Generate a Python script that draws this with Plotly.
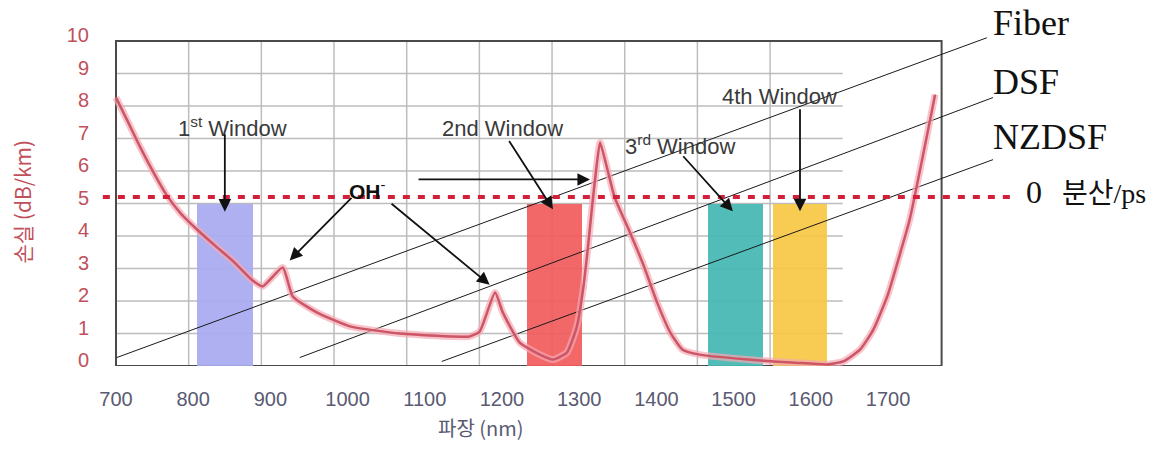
import plotly.graph_objects as go

# ---- data ----
wavelength = [700, 716, 731, 748, 765, 784, 805, 828, 852, 877, 890, 916, 929, 960, 1003, 1068,
              1158, 1171, 1191, 1201, 1223, 1249, 1266, 1284, 1297, 1305, 1311, 1317, 1322, 1327,
              1336, 1346, 1363, 1383, 1401, 1418, 1434, 1456, 1534, 1580, 1621,
              1642, 1664, 1681, 1699, 1716, 1728, 1761]
loss = [8.26, 7.49, 6.75, 5.98, 5.28, 4.69, 4.2, 3.71, 3.22, 2.63, 2.45, 3.03, 2.14, 1.65, 1.22, 1.0,
        0.91, 1.06, 2.26, 1.65, 0.72, 0.35, 0.2, 0.41, 1.22, 2.35, 3.58, 4.97, 6.05, 6.88,
        6.1, 5.18, 4.26, 3.12, 1.95, 1.03, 0.5, 0.35, 0.17, 0.1, 0.05,
        0.14, 0.51, 1.12, 2.14, 3.49, 4.5, 8.35]

window_start = [805, 1232, 1467, 1551]
window_end = [877, 1304, 1538, 1621]
window_top = [5, 5, 5, 5]
window_colors = ["#a9aaf0", "#f25c5c", "#45b8b4", "#f8c845"]

disp_names = ["Fiber", "DSF", "NZDSF"]
disp_x0 = [701, 938, 1122]
disp_y0 = [0.26, 0.26, 0.14]
disp_x1 = [1828, 1836, 1836]
disp_y1 = [10.1, 8.26, 6.35]
disp_label_y = [10.55, 8.75, 7.06]
disp_label_x = 1834

zero_disp_level = 5.2
zero_disp_x = [683, 1862]

x_ticks = [700, 800, 900, 1000, 1100, 1200, 1300, 1400, 1500, 1600, 1700]
y_ticks = [0, 1, 2, 3, 4, 5, 6, 7, 8, 9, 10]

# window labels & arrows
win_labels = ["1<sup>st</sup> Window", "2nd Window", "3<sup>rd</sup> Window", "4th Window"]
win_label_x = [851, 1201, 1430, 1560]
win_label_y = [7.34, 7.3, 6.8, 8.3]

arrow_tail_x = [841, 1208, 1433, 1586, 1007, 1055, 1090]
arrow_tail_y = [7.18, 6.97, 6.5, 7.95, 5.22, 5.03, 5.74]
arrow_head_x = [841, 1266, 1499, 1586, 925, 1184, 1314]
arrow_head_y = [4.75, 4.82, 4.76, 4.76, 3.25, 2.5, 5.74]

oh_label = ("<b>OH</b><sup>-</sup>", 1026, 5.43)

# frame / grid (drawn on grid axis x2)
grid_x = [800, 900, 1000, 1100, 1200, 1300, 1400, 1500, 1600]
grid_y = [1, 2, 3, 4, 5, 6, 7, 8, 9]
grid_x_min, grid_x_max = 700, 1700
frame_x_max = 1836
y_min, y_max = 0, 10

fig = go.Figure()

# windows (bars)
fig.add_trace(go.Bar(
    x=[(s + e) / 2 for s, e in zip(window_start, window_end)],
    y=window_top,
    width=[e - s for s, e in zip(window_start, window_end)],
    marker=dict(color=window_colors, line=dict(width=0)),
    opacity=0.93, showlegend=False, hoverinfo="skip"))

# dispersion lines
for i, n in enumerate(disp_names):
    fig.add_trace(go.Scatter(x=[disp_x0[i], disp_x1[i]], y=[disp_y0[i], disp_y1[i]],
                             mode="lines", line=dict(color="#1a1a1a", width=1),
                             showlegend=False, hoverinfo="skip"))

# loss curve (halo + main)
fig.add_trace(go.Scatter(x=wavelength, y=loss, mode="lines",
                         line=dict(color="rgba(245,170,180,0.7)", width=7, shape="spline", smoothing=0.5),
                         showlegend=False, hoverinfo="skip"))
fig.add_trace(go.Scatter(x=wavelength, y=loss, mode="lines",
                         line=dict(color="#cc5566", width=2.5, shape="spline", smoothing=0.5),
                         showlegend=False))

# zero dispersion dotted line
fig.add_trace(go.Scatter(x=zero_disp_x, y=[zero_disp_level] * 2, mode="lines",
                         line=dict(color="#d2203c", width=4, dash="7px,8px"),
                         showlegend=False, hoverinfo="skip"))

shapes = []
for gx in grid_x:
    shapes.append(dict(type="line", xref="x2", yref="y", x0=gx, x1=gx, y0=y_min, y1=y_max,
                       line=dict(color="#bdbdbd", width=1.5), layer="below"))
for gy in grid_y:
    shapes.append(dict(type="line", xref="x2", yref="y", x0=grid_x_min, x1=grid_x_max, y0=gy, y1=gy,
                       line=dict(color="#bdbdbd", width=1.5), layer="below"))
shapes.append(dict(type="rect", xref="x2", yref="y", x0=grid_x_min, x1=frame_x_max, y0=y_min, y1=y_max,
                   line=dict(color="#4a4a4a", width=2), layer="below"))

annotations = []
for t, x, y in zip(win_labels, win_label_x, win_label_y):
    annotations.append(dict(x=x, y=y, xref="x", yref="y", text=t, showarrow=False,
                            font=dict(family="Liberation Sans, Arial", size=22, color="#3a3a3a")))
annotations.append(dict(x=oh_label[1], y=oh_label[2], xref="x", yref="y", text=oh_label[0],
                        showarrow=False, font=dict(family="Liberation Sans, Arial", size=21, color="#111")))
for tx, ty, hx, hy in zip(arrow_tail_x, arrow_tail_y, arrow_head_x, arrow_head_y):
    annotations.append(dict(x=hx, y=hy, ax=tx, ay=ty, xref="x", yref="y", axref="x", ayref="y",
                            text="", showarrow=True, arrowhead=2, arrowsize=1.4, arrowwidth=1.8,
                            arrowcolor="#111"))
for n, ly in zip(disp_names, disp_label_y):
    annotations.append(dict(x=disp_label_x, y=ly, xref="x", yref="y", text=n, showarrow=False,
                            xanchor="left", font=dict(family="Liberation Serif, Times New Roman", size=36, color="#111")))
annotations.append(dict(x=1876, y=5.34, xref="x", yref="y", text="0", showarrow=False, xanchor="left",
                        font=dict(family="Liberation Serif", size=32, color="#111")))
annotations.append(dict(x=1923, y=5.3, xref="x", yref="y", text="분산/ps", showarrow=False, xanchor="left",
                        font=dict(family="Liberation Serif, Noto Sans CJK KR", size=28, color="#111")))
annotations.append(dict(x=-0.0736, y=5.06, xref="paper", yref="y", text="손실 (dB/km)", showarrow=False,
                        xanchor="center", yanchor="middle", textangle=-90,
                        font=dict(family="Noto Sans CJK KR, Liberation Sans", size=21, color="#c0505c")))
annotations.append(dict(x=1173, y=-0.17, xref="x", yref="paper", text="파장 (nm)", showarrow=False,
                        xanchor="center", yanchor="middle",
                        font=dict(family="Noto Sans CJK KR, Liberation Sans", size=20, color="#5a5a72")))

fig.update_layout(
    width=1161, height=452,
    margin=dict(l=100, r=1, t=5, b=86),
    paper_bgcolor="white", plot_bgcolor="white",
    bargap=0, shapes=shapes, annotations=annotations,
    xaxis=dict(range=[679.3, 2052.3], tickvals=x_ticks, ticks="outside", ticklen=15,
               tickcolor="rgba(0,0,0,0)", showgrid=False, zeroline=False, showline=False,
               tickfont=dict(family="Liberation Sans, Arial", size=20, color="#5a5a72")),
    xaxis2=dict(range=[678.0, 2136.5], overlaying="x", anchor="y", visible=False),
    yaxis=dict(range=[0, 11.108], tickvals=y_ticks, ticks="outside", ticklen=6,
               tickcolor="rgba(0,0,0,0)", showgrid=False, zeroline=False, showline=False,
               ticklabelshift=-6,
               tickfont=dict(family="Liberation Sans, Arial", size=20, color="#c0505c")),
)

fig.write_html("out.html", config={"displayModeBar": False},
               post_script="document.body.style.margin='0';")
